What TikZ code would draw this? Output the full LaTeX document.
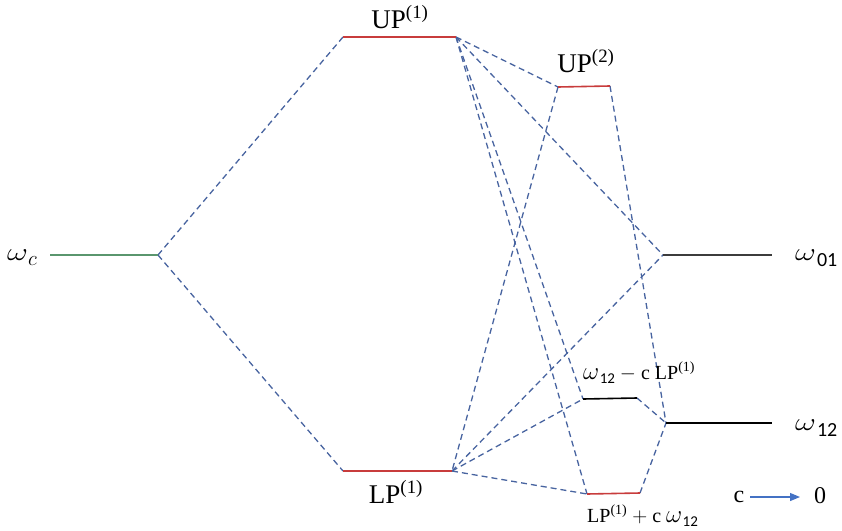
\documentclass[tikz,border=0pt]{standalone}
\usepackage{graphicx}
\usepackage{fontspec}
\setmainfont{Liberation Serif}
\newfontfamily\subf{Carlito}
\usetikzlibrary{arrows.meta}
\definecolor{dashblue}{RGB}{72,100,160}
\definecolor{lvred}{RGB}{200,60,60}
\definecolor{lvgreen}{RGB}{90,150,110}
\definecolor{lvgray}{RGB}{60,60,60}
\definecolor{arrblue}{RGB}{68,114,196}
\newcommand{\bigom}[1]{\scalebox{1.3}[1]{$\omega$}\kern1pt\raisebox{-6pt}{\subf\fontsize{20}{20}\selectfont #1}}
\newcommand{\smallom}[1]{{\fontsize{23}{23}\selectfont$\omega$}\kern0.5pt\raisebox{-4pt}{\subf\fontsize{15}{15}\selectfont #1}}
\tikzset{
  link/.style={draw=dashblue, line width=1.3pt, dash pattern=on 6pt off 4pt},
  lvl/.style={line width=1.6pt},
  biglab/.style={font=\fontsize{27}{30}\selectfont, inner sep=0pt, anchor=base},
  smalllab/.style={font=\fontsize{20}{24}\selectfont, inner sep=0pt, anchor=base west},
  omlab/.style={font=\fontsize{30}{34}\selectfont, inner sep=0pt, anchor=base west}
}
\begin{document}
\begin{tikzpicture}[x=1pt,y=-1pt]
\useasboundingbox (0,0) rectangle (842,530);
% level end points
\coordinate (cL) at (50,255);   \coordinate (cR) at (158,255);
\coordinate (u1L) at (343,37);  \coordinate (u1R) at (456,37);
\coordinate (l1L) at (343,471); \coordinate (l1R) at (452,471);
\coordinate (u2L) at (558,87);  \coordinate (u2R) at (610,86);
\coordinate (w01L) at (663,255); \coordinate (w01R) at (772,255);
\coordinate (w12L) at (666,423); \coordinate (w12R) at (772,423);
\coordinate (mL) at (583,399);  \coordinate (mR) at (637,398);
\coordinate (bL) at (587,494);  \coordinate (bR) at (640,493);
% dashed links
\draw[link] (cR) -- (u1L);
\draw[link] (cR) -- (l1L);
\draw[link] (u1R) -- (u2L);
\draw[link] (u1R) -- (w01L);
\draw[link] (u1R) -- (mL);
\draw[link] (u1R) -- (bL);
\draw[link] (u2L) -- (l1R);
\draw[link] (u2R) -- (w12L);
\draw[link] (l1R) -- (w01L);
\draw[link] (l1R) -- (mL);
\draw[link] (l1R) -- (bL);
\draw[link] (mR) -- (w12L);
\draw[link] (bR) -- (w12L);
% levels
\draw[lvl, lvgreen] (cL) -- (cR);
\draw[lvl, lvred] (u1L) -- (u1R);
\draw[lvl, lvred] (l1L) -- (l1R);
\draw[lvl, lvred] (u2L) -- (u2R);
\draw[lvl, lvgray] (w01L) -- (w01R);
\draw[lvl, black] (w12L) -- (w12R);
\draw[lvl, black] (mL) -- (mR);
\draw[lvl, lvred] (bL) -- (bR);
% labels
\node[omlab] (tc) at (7,260) {\scalebox{1.3}[1]{$\omega$}\raisebox{-5pt}{\fontsize{21}{21}\selectfont$c$}};
\node[biglab] (tu1) at (400,28) {UP\textsuperscript{(1)}};
\node[biglab] (tu2) at (586,72) {UP\textsuperscript{(2)}};
\node[biglab] (tl1) at (396,503) {LP\textsuperscript{(1)}};
\node[omlab] (t01) at (795,260) {\bigom{01}};
\node[omlab] (t12) at (795,430) {\bigom{12}};
\node[smalllab] (tm) at (583,379) {\smallom{12} $-$ c LP\textsuperscript{(1)}};
\node[smalllab] (tb) at (587,522) {LP\textsuperscript{(1)} $+$ c \smallom{12}};
\node[biglab, font=\fontsize{24}{28}\selectfont] (tcc) at (739,502) {c};
\node[biglab, font=\fontsize{24}{28}\selectfont] (t0) at (820,503) {0};
\coordinate (aS) at (750,497);
\coordinate (aE) at (800,497);
\draw[arrblue, line width=1.2pt, -{Triangle[length=10pt,width=8pt]}] (aS) -- (aE);
\end{tikzpicture}
\end{document}
